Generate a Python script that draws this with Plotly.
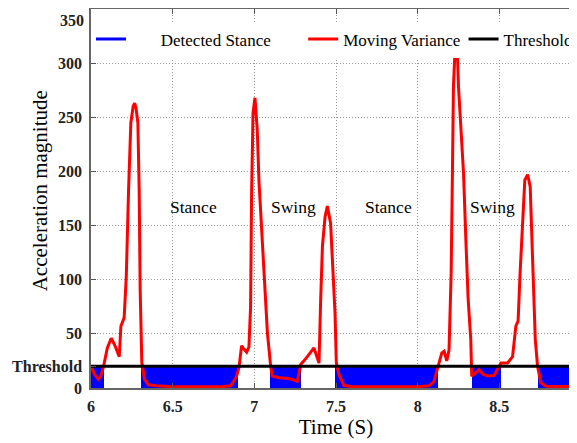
import plotly.graph_objects as go

# ---------------- data ----------------
time_s = [6.0, 6.02, 6.046, 6.06, 6.077, 6.1, 6.124, 6.15, 6.173, 6.183, 6.203, 6.216,
          6.23, 6.244, 6.258, 6.267, 6.275, 6.287, 6.295, 6.301, 6.311, 6.328, 6.352,
          6.4, 6.5, 6.6, 6.7, 6.8, 6.855, 6.89, 6.906, 6.922, 6.936, 6.953, 6.967,
          6.977, 6.983, 6.992, 7.004, 7.018, 7.028, 7.045, 7.059, 7.08, 7.1, 7.11,
          7.151, 7.2, 7.233, 7.263, 7.284, 7.32, 7.365, 7.386, 7.396, 7.406, 7.417,
          7.433, 7.447, 7.467, 7.482, 7.494, 7.502, 7.518, 7.549, 7.6, 7.8, 8.0,
          8.07, 8.1, 8.125, 8.148, 8.162, 8.178, 8.192, 8.198, 8.205, 8.213, 8.219,
          8.227, 8.244, 8.25, 8.264, 8.281, 8.295, 8.309, 8.325, 8.331, 8.356, 8.376,
          8.397, 8.428, 8.468, 8.489, 8.51, 8.55, 8.581, 8.601, 8.615, 8.627, 8.642,
          8.656, 8.673, 8.689, 8.697, 8.71, 8.72, 8.734, 8.754, 8.785, 8.9, 9.0]
moving_variance = [21, 13, 8, 11, 20, 37, 46, 38, 29, 57, 65, 103,
                   183, 245, 260, 263, 259, 245, 183, 91, 23.5, 8, 3,
                   2, 1.2, 1.2, 1.2, 1.2, 2, 10, 19, 39, 36, 33, 38,
                   75, 177, 254, 268, 238, 192, 146, 100, 51, 20, 11,
                   9.4, 9, 8, 6, 21.7, 28, 37, 28, 23, 81, 131,
                   158, 168, 152, 112, 69, 23, 12.5, 2.3, 1.2, 1.2, 1.2,
                   2, 6, 20, 32.5, 34, 25, 35, 60, 106, 201, 278,
                   306, 306, 278, 245, 198, 137, 82, 45, 11, 14, 17,
                   13, 11, 11.5, 17, 23, 23, 29, 57, 62, 106, 152,
                   192, 197, 186, 149, 100, 45, 20, 5, 1.7, 1.2, 1.2]
threshold = 20
stance_start = [6.0, 6.309, 7.094, 7.496, 8.331, 8.736]
stance_end = [6.077, 6.898, 7.288, 8.123, 8.508, 9.0]

x_tick_vals = [6, 6.5, 7, 7.5, 8, 8.5, 9]
x_tick_text = ["6", "6.5", "7", "7.5", "8", "8.5", "9"]
y_tick_vals = [0, 20, 50, 100, 150, 200, 250, 300]
y_tick_text = ["0", "Threshold", "50", "100", "150", "200", "250", "300"]
y_top_label = "350"

phase_labels = ["Stance", "Swing", "Stance", "Swing"]
phase_x = [6.628, 7.241, 7.823, 8.46]
phase_y = [167, 167, 167, 167]

# ---------------- figure ----------------
SERIF = "Liberation Serif"
x_range = [6, 9]
y_range = [0, 350]

fig = go.Figure()

fig.add_trace(go.Bar(
    x=[(s + e) / 2 for s, e in zip(stance_start, stance_end)],
    y=[threshold] * len(stance_start),
    width=[e - s for s, e in zip(stance_start, stance_end)],
    marker=dict(color="#0000FF", line=dict(width=0)),
    showlegend=False, hoverinfo="skip",
))
fig.add_trace(go.Scatter(
    x=[None], y=[None], mode="lines", name="\u00a0" * 7 + "Detected Stance",
    line=dict(color="#0000FF", width=3), legend="legend",
))
fig.add_trace(go.Scatter(
    x=time_s, y=moving_variance, mode="lines", name="Moving Variance",
    line=dict(color="#FF0000", width=3), legend="legend2",
))
fig.add_trace(go.Scatter(
    x=[time_s[0], time_s[-1]], y=[threshold, threshold], mode="lines",
    name="Threshold", line=dict(color="black", width=3), legend="legend3",
))

for lab, px, py in zip(phase_labels, phase_x, phase_y):
    fig.add_annotation(x=px, y=py, text=lab, showarrow=False,
                       font=dict(family=SERIF, size=17.5, color="black"))

fig.add_annotation(xref="paper", yref="paper", x=0, y=0.519, xshift=-51,
                   xanchor="center", yanchor="middle",
                   text="Acceleration magnitude", textangle=-90, showarrow=False,
                   font=dict(family=SERIF, size=21, color="black"))
# top tick label, nudged inside the figure like in the source
fig.add_annotation(xref="paper", yref="paper", x=0, y=1, xshift=-5, yshift=-1,
                   xanchor="right", yanchor="top", text=y_top_label, showarrow=False,
                   font=dict(family=SERIF, size=16, color="#222", weight="bold"))

axis_common = dict(showline=True, linecolor="#666", linewidth=1.5, mirror="ticks",
                   ticks="inside", ticklen=5, tickcolor="#555", automargin=False,
                   showgrid=True, gridcolor="#999", griddash="1px,2px", gridwidth=1,
                   zeroline=False,
                   tickfont=dict(family=SERIF, size=16, color="#222", weight="bold"))

legend_common = dict(orientation="h", y=0.9195, yanchor="middle",
                     bgcolor="white", borderwidth=0,
                     font=dict(family=SERIF, size=17, color="black"))

# page body has an 8px margin: figure origin sits at (8, 8) of the window
fig.update_layout(
    width=577, height=443,
    margin=dict(l=83, r=4.4, t=1, b=62.5),
    plot_bgcolor="white", paper_bgcolor="white",
    bargap=0,
    xaxis=dict(range=x_range, tickvals=x_tick_vals, ticktext=x_tick_text,
               ticklabelstandoff=3,
               title=dict(text="Time (S)", font=dict(family=SERIF, size=21, color="black"),
                          standoff=5),
               **axis_common),
    yaxis=dict(range=y_range, tickvals=y_tick_vals, ticktext=y_tick_text,
               ticklabelstandoff=4, **axis_common),
    legend=dict(x=0.0, xanchor="left", **legend_common),
    legend2=dict(x=0.433, xanchor="left", **legend_common),
    legend3=dict(x=0.995, xanchor="right", **legend_common),
    showlegend=True,
)

fig.write_html("out.html", config={"displayModeBar": False})
